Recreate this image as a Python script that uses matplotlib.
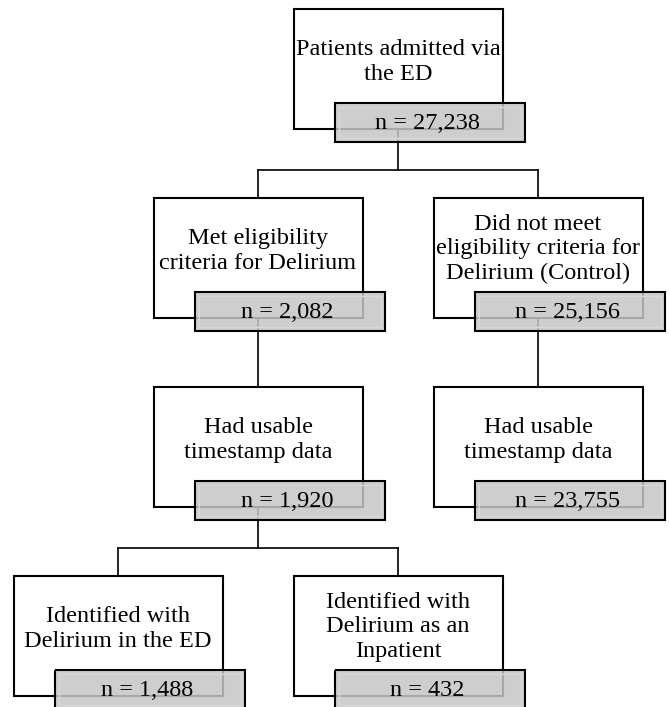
import matplotlib
matplotlib.use('Agg')
import matplotlib.pyplot as plt
from matplotlib.patches import Rectangle

# flowchart contents
labels = [
    'Patients admitted via\nthe ED',
    'Met eligibility\ncriteria for Delirium',
    'Did not meet\neligibility criteria for\nDelirium (Control)',
    'Had usable\ntimestamp data',
    'Had usable\ntimestamp data',
    'Identified with\nDelirium in the ED',
    'Identified with\nDelirium as an\nInpatient',
]
counts = ['n = 27,238', 'n = 2,082', 'n = 25,156', 'n = 1,920',
          'n = 23,755', 'n = 1,488', 'n = 432']
# (column, row) of each box in the grid
cols = [2, 1, 3, 1, 3, 0, 2]
rows = [0, 1, 1, 2, 2, 3, 3]
# parent -> children links
links = [(0, [1, 2]), (1, [3]), (2, [4]), (3, [5, 6])]

col_x = [118, 258, 398, 538]   # box centres, px
row_y = [9, 198, 387, 576]     # box tops, px
bw, bh = 209, 120
gw, gh, gdx, gdy = 190, 39, 41, 94

plt.rcParams['font.family'] = ['Liberation Serif', 'DejaVu Serif']

fig = plt.figure(figsize=(6.7, 7.07), dpi=100)
ax = fig.add_axes([0, 0, 1, 1])
ax.set_xlim(0, 670)
ax.set_ylim(707, 0)
ax.axis('off')

# connectors
for p, kids in links:
    px = col_x[cols[p]]
    pb = row_y[rows[p]] + bh
    ct = row_y[rows[kids[0]]]
    if len(kids) == 1:
        ax.plot([px, px], [pb, ct], color='black', lw=1.2, zorder=1)
    else:
        mid = pb + 41
        ax.plot([px, px], [pb, mid], color='black', lw=1.2, zorder=1)
        xs = [col_x[cols[k]] for k in kids]
        ax.plot([min(xs), max(xs)], [mid, mid], color='black', lw=1.2, zorder=1)
        for x in xs:
            ax.plot([x, x], [mid, ct], color='black', lw=1.2, zorder=1)

for lab, n, c, r in zip(labels, counts, cols, rows):
    cx = col_x[c]
    top = row_y[r]
    left = cx - bw / 2
    nlines = lab.count('\n') + 1
    dy = -7 if nlines == 2 else -9
    ax.add_patch(Rectangle((left, top), bw, bh, facecolor='white',
                           edgecolor='black', lw=1.5, zorder=2))
    ax.text(cx, top + bh / 2 + dy, lab, ha='center', va='center',
            fontsize=17.5, linespacing=1.22, zorder=3)
    gl = left + gdx
    gt = top + gdy
    ax.add_patch(Rectangle((gl, gt), gw, gh, facecolor='#c6c6c6', alpha=0.85,
                           edgecolor='none', zorder=4))
    ax.add_patch(Rectangle((gl + 4, gt + 4), gw - 8, gh - 8, facecolor='none',
                           edgecolor='#d8d8d8', lw=1, zorder=5))
    ax.add_patch(Rectangle((gl, gt), gw, gh, facecolor='none',
                           edgecolor='black', lw=1.5, zorder=5))
    ax.text(gl + gw / 2 - 2, gt + gh / 2 + 1, n, ha='center', va='center',
            fontsize=17.5, zorder=6)

plt.savefig('out.png')
plt.close()
